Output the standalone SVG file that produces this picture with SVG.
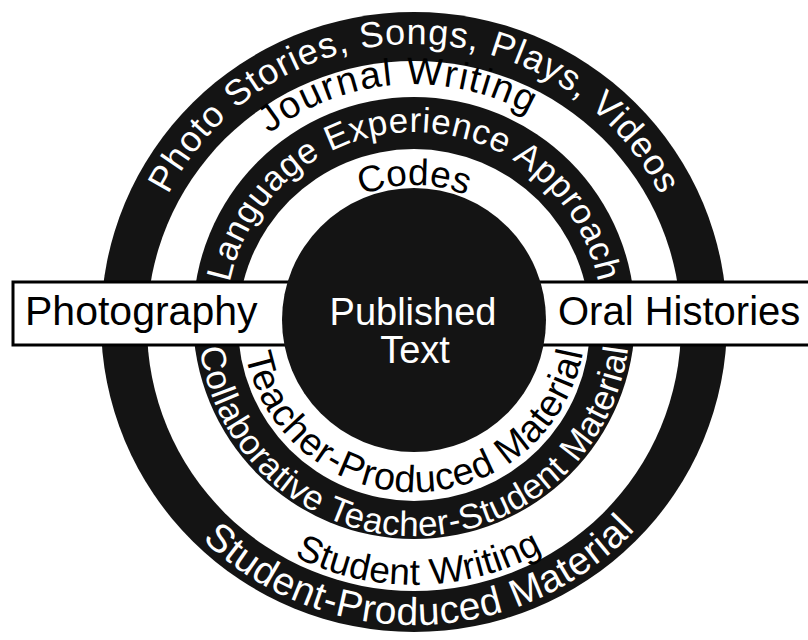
<svg xmlns="http://www.w3.org/2000/svg" xmlns:xlink="http://www.w3.org/1999/xlink" width="808" height="640" viewBox="0 0 808 640">
<style>
.dark{fill:#141414}
.light{fill:#ffffff}
.t{font-family:"Liberation Sans",Arial,Helvetica,sans-serif}
.w{fill:#ffffff}
.b{fill:#000000}
</style>
<defs>
<path id="pPhoto" d="M147.4,391.4 A276,276 0 1 1 680.6,391.4"/>
<path id="pJournal" d="M186.0,381.1 A236,236 0 1 1 642.0,381.1"/>
<path id="pLang" d="M232.4,368.7 A188,188 0 1 1 595.6,368.7"/>
<path id="pCodes" d="M283.6,354.9 A135,135 0 1 1 544.4,354.9"/>
<path id="pTeacher" d="M247.9,275.5 A172,172 0 1 0 580.1,275.5"/>
<path id="pCollab" d="M205.4,264.1 A216,216 0 1 0 622.6,264.1"/>
<path id="pSW" d="M158.0,251.4 A265,265 0 1 0 670.0,251.4"/>
<path id="pSP" d="M119.4,241.1 A305,305 0 1 0 708.6,241.1"/>
</defs>
<rect width="808" height="640" fill="#ffffff"/>
<g id="ring-student-produced">
<ellipse class="dark" cx="414" cy="322" rx="313" ry="310"/>
</g>
<g id="ring-student-writing">
<ellipse class="light" cx="414" cy="326" rx="267" ry="265"/>
</g>
<g id="ring-collaborative">
<circle class="dark" cx="414" cy="318" r="221"/>
</g>
<g id="ring-teacher-produced">
<circle class="light" cx="414" cy="325" r="176"/>
</g>
<g id="band">
<rect x="13" y="282" width="820" height="63" fill="#ffffff" stroke="#000000" stroke-width="3"/>
<text class="t b" x="25" y="325" font-size="41">Photography</text>
<text class="t b" x="558" y="325" font-size="40">Oral Histories</text>
</g>
<g id="published-text">
<circle class="dark" cx="414" cy="320" r="132"/>
<text class="t w" x="413" y="325" font-size="38" text-anchor="middle">Published</text>
<text class="t w" x="415" y="363" font-size="38" text-anchor="middle">Text</text>
</g>
<g id="ring-labels">
<text class="t w" font-size="36"><textPath xlink:href="#pPhoto" startOffset="202.3" textLength="607" lengthAdjust="spacing">Photo Stories, Songs, Plays, Videos</textPath></text>
<text class="t b" font-size="38"><textPath xlink:href="#pJournal" startOffset="276" textLength="276" lengthAdjust="spacing">Journal Writing</textPath></text>
<text class="t w" font-size="35"><textPath xlink:href="#pLang" startOffset="87" textLength="514" lengthAdjust="spacing">Language Experience Approach</textPath></text>
<text class="t b" font-size="37" text-anchor="middle"><textPath xlink:href="#pCodes" startOffset="50%">Codes</textPath></text>
<text class="t b" font-size="38"><textPath xlink:href="#pTeacher" startOffset="80.4" textLength="472.5" lengthAdjust="spacing">Teacher-Produced Material</textPath></text>
<text class="t w" font-size="35"><textPath xlink:href="#pCollab" startOffset="84.8" textLength="622" lengthAdjust="spacing">Collaborative Teacher-Student Material</textPath></text>
<text class="t b" font-size="37"><textPath xlink:href="#pSW" startOffset="360.8" textLength="259" lengthAdjust="spacing">Student Writing</textPath></text>
<text class="t w" font-size="39"><textPath xlink:href="#pSP" startOffset="324.7" textLength="481.7" lengthAdjust="spacing">Student-Produced Material</textPath></text>
</g>
</svg>
